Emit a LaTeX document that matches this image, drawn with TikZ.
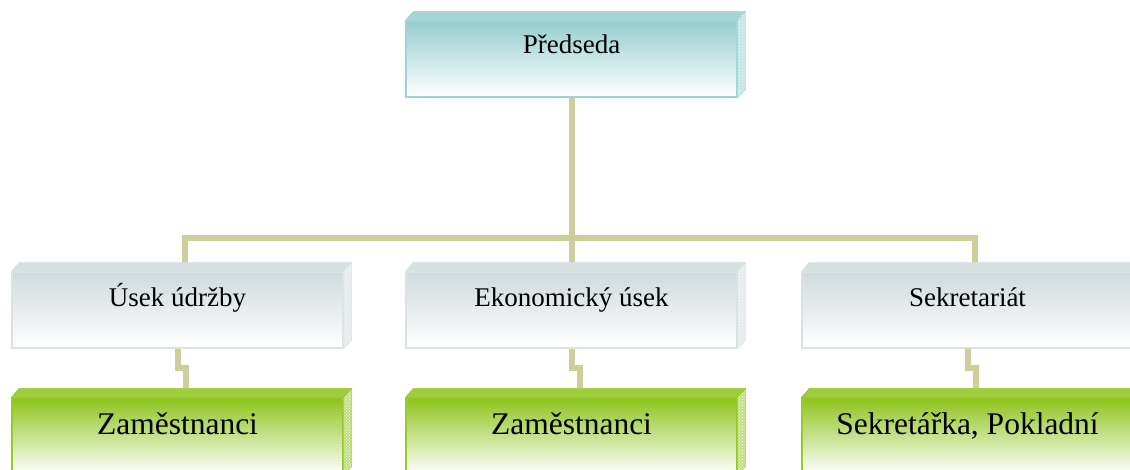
\documentclass[tikz,border=0pt]{standalone}
\usepackage{fontspec}
\setmainfont{Liberation Serif}
\usetikzlibrary{patterns,calc}
\definecolor{conn}{RGB}{206,206,156}
\definecolor{tealtop}{RGB}{150,206,206}
\definecolor{tealbd}{RGB}{160,212,212}
\definecolor{graytop}{RGB}{208,218,220}
\definecolor{graybd}{RGB}{218,226,228}
\definecolor{greentop}{RGB}{142,196,28}
\definecolor{greenbd}{RGB}{150,202,40}
\tikzset{
  front/.style={draw=#1bd, line width=1.2pt, minimum width=331pt, minimum height=76pt, inner sep=0pt, top color=#1top, bottom color=white},
  topface/.style={fill=#1top!85!white, draw=#1bd, line width=0.6pt},
  sideface/.style={fill=#1top!55!white, draw=#1bd, line width=0.6pt},
  sidepat/.style={pattern=crosshatch dots, pattern color=white},
  lbl/.style={anchor=base, font=\fontsize{27}{27}\selectfont, inner sep=0pt},
  lblbig/.style={anchor=base, font=\fontsize{31.5}{31.5}\selectfont, inner sep=0pt},
  link/.style={draw=conn, line width=6pt},
}
\newcommand{\boxthreed}[2]{%
  \fill[topface=#2] (#1.north west) -- ++(8,9) -- ($(#1.north east)+(8,9)$) -- (#1.north east) -- cycle;
  \fill[sideface=#2] (#1.north east) -- ++(8,9) -- ($(#1.south east)+(8,8)$) -- (#1.south east) -- cycle;
  \fill[sidepat] (#1.north east) -- ++(8,9) -- ($(#1.south east)+(8,8)$) -- (#1.south east) -- cycle;
}
\begin{document}
\begin{tikzpicture}[x=1pt,y=1pt]
\useasboundingbox (0,0) rectangle (1130,470);
\clip (0,0) rectangle (1130,470);
% boxes
\node[front=teal] (p) at (571.5,411) {};
\node[front=gray] (a) at (177.5,160) {};
\node[front=gray] (b) at (571.5,160) {};
\node[front=gray] (c) at (967.5,160) {};
\node[front=green] (a2) at (177.5,34) {};
\node[front=green] (b2) at (571.5,34) {};
\node[front=green] (c2) at (967.5,34) {};
% junction coordinates
\coordinate (jm) at (571.5,232);
\coordinate (jl) at (184.5,232);
\coordinate (jr) at (974.5,232);
\coordinate (al) at (184.5,207);
\coordinate (bl) at (571.5,207);
\coordinate (cl) at (974.5,207);
% links (behind boxes)
\draw[link] (p.south) -- (jm);
\draw[link, line cap=rect] (jl) -- (jr);
\draw[link] (jl) -- (al);
\draw[link] (jm) -- (bl);
\draw[link] (jr) -- (cl);
\foreach \u/\l in {a/a2,b/b2,c/c2}{
  \draw[link] (\u.south) -- ++(0,-19) -| ($(\l.north)+(8,9)$);
}
\boxthreed{p}{teal}
\boxthreed{a}{gray}
\boxthreed{b}{gray}
\boxthreed{c}{gray}
\boxthreed{a2}{green}
\boxthreed{b2}{green}
\boxthreed{c2}{green}
% texts
\node[lbl] (tp) at (571.5,416) {Předseda};
\node[lbl] (ta) at (177.5,163) {Úsek údržby};
\node[lbl] (tb) at (571.5,163) {Ekonomický úsek};
\node[lbl] (tc) at (967.5,163) {Sekretariát};
\node[lblbig] (ta2) at (177.5,35) {Zaměstnanci};
\node[lblbig] (tb2) at (571.5,35) {Zaměstnanci};
\node[lblbig] (tc2) at (967.5,35) {Sekretářka, Pokladní};
\end{tikzpicture}
\end{document}
